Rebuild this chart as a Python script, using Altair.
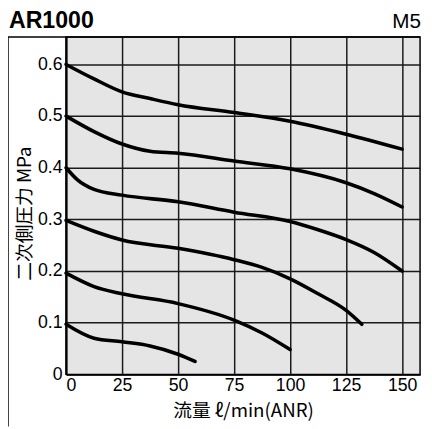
import altair as alt
import pandas as pd

# Flow (l/min ANR) and secondary pressure (MPa)
flow_06 = [0, 12.5, 25, 37.5, 50, 75, 100, 125, 150]
pres_06 = [0.600, 0.572, 0.547, 0.534, 0.522, 0.507, 0.490, 0.465, 0.436]

flow_05 = [0, 12.5, 25, 37.5, 50, 75, 100, 125, 137.5, 150]
pres_05 = [0.500, 0.470, 0.446, 0.432, 0.428, 0.413, 0.398, 0.371, 0.350, 0.324]

flow_04 = [0, 5, 12.5, 25, 50, 75, 100, 112.5, 125, 137.5, 150]
pres_04 = [0.400, 0.377, 0.358, 0.347, 0.334, 0.314, 0.296, 0.280, 0.261, 0.236, 0.200]

flow_03 = [0, 12.5, 25, 50, 75, 87.5, 100, 112.5, 125, 132]
pres_03 = [0.298, 0.277, 0.260, 0.244, 0.222, 0.207, 0.185, 0.156, 0.124, 0.097]

flow_02 = [0, 12.5, 25, 50, 75, 87.5, 100]
pres_02 = [0.196, 0.170, 0.156, 0.137, 0.105, 0.080, 0.048]

flow_01 = [0, 12.5, 25, 37.5, 50, 57.6]
pres_01 = [0.097, 0.070, 0.063, 0.055, 0.039, 0.025]

x_ticks = [0, 25, 50, 75, 100, 125, 150]
y_ticks = [0, 0.1, 0.2, 0.3, 0.4, 0.5, 0.6]

series = [
    ("0.6", flow_06, pres_06),
    ("0.5", flow_05, pres_05),
    ("0.4", flow_04, pres_04),
    ("0.3", flow_03, pres_03),
    ("0.2", flow_02, pres_02),
    ("0.1", flow_01, pres_01),
]
rows = []
for name, fx, py in series:
    for i, (a, b) in enumerate(zip(fx, py)):
        rows.append({"set": name, "flow": a, "pressure": b, "order": i})
df = pd.DataFrame(rows)

FONT = "Liberation Sans, Noto Sans CJK JP, sans-serif"
JFONT = "Noto Sans CJK JP, sans-serif"

lines = alt.Chart(df).mark_line(
    color="black", strokeWidth=3.6, interpolate="monotone", strokeCap="round"
).encode(
    x=alt.X(
        "flow:Q",
        scale=alt.Scale(domain=[0, 158], nice=False, zero=False),
        axis=alt.Axis(
            values=x_ticks,
            title="流量 ℓ/min(ANR)",
            titlePadding=8,
            titleFont=JFONT,
            titleFontSize=19,
        ),
    ),
    y=alt.Y(
        "pressure:Q",
        scale=alt.Scale(domain=[0, 0.653], nice=False),
        axis=alt.Axis(
            values=y_ticks,
            labelExpr="datum.value == 0 ? '0' : format(datum.value, '.1f')",
            labelFlush=False,
            title="二次側圧力 MPa",
            titleFont=JFONT,
            titleFontSize=19,
            titleAngle=-90,
            titleBaseline="middle",
            titleAlign="center",
            titleX=-42,
            titleY=179,
        ),
    ),
    detail="set:N",
    order="order:Q",
)

left_rule = alt.Chart(pd.DataFrame({"a": [0]})).mark_rule(
    color="black", strokeWidth=1.5
).encode(x=alt.value(-59), y=alt.value(0), y2=alt.value(396))

top_rule = alt.Chart(pd.DataFrame({"a": [0]})).mark_rule(
    color="black", strokeWidth=1.5
).encode(x=alt.value(-59), x2=alt.value(360), y=alt.value(0))

title_left = alt.Chart(pd.DataFrame({"t": ["AR1000"]})).mark_text(
    align="left", baseline="alphabetic", fontSize=23.5, fontWeight="bold",
    font=FONT, color="black"
).encode(text="t:N", x=alt.value(-58), y=alt.value(-9))

title_right = alt.Chart(pd.DataFrame({"t": ["M5"]})).mark_text(
    align="right", baseline="alphabetic", fontSize=21,
    font=FONT, color="black"
).encode(text="t:N", x=alt.value(361), y=alt.value(-9))

chart = alt.layer(lines, left_rule, top_rule, title_left, title_right).properties(
    width=360,
    height=343,
    autosize=alt.AutoSizeParams(type="none"),
    padding={"left": 59, "top": 26, "right": 4, "bottom": 52},
).configure_view(
    fill="#e5e5e5", stroke="black", strokeWidth=1.5
).configure_axis(
    grid=True,
    gridColor="#1a1a1a",
    gridWidth=1.5,
    gridOpacity=1,
    domainColor="black",
    domainWidth=2,
    ticks=False,
    labelFontSize=18,
    labelColor="black",
    labelFont=FONT,
    titleFont=FONT,
    titleFontSize=16,
    titleFontWeight="normal",
    titleColor="black",
).configure_axisX(
    labelPadding=2,
).configure_axisY(
    labelPadding=4,
)

chart.save("out.html", embed_options={"renderer": "svg", "actions": False})
